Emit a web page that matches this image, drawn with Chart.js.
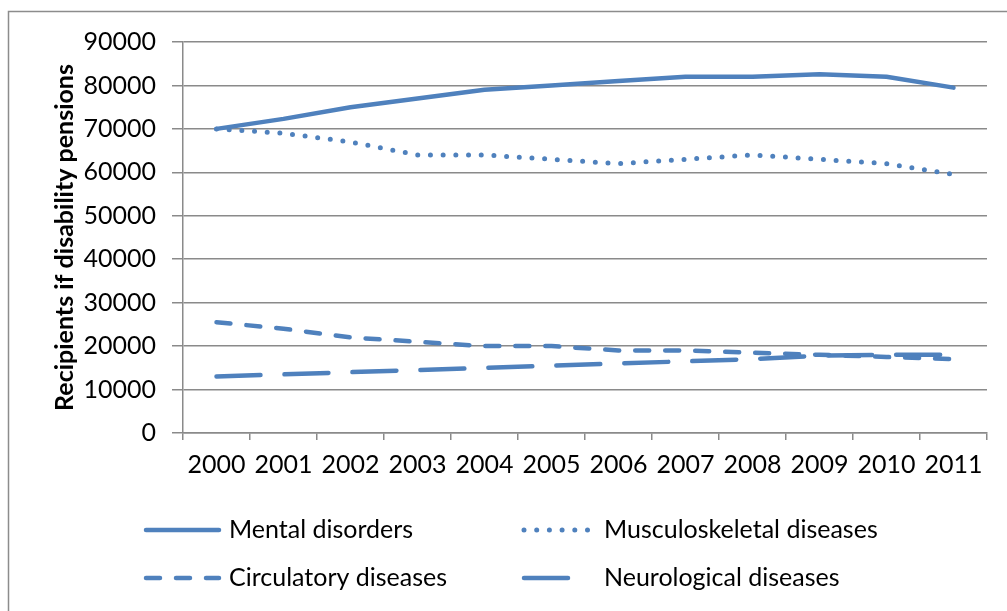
<!DOCTYPE html>
<html>
<head>
<meta charset="utf-8">
<script src="https://cdn.jsdelivr.net/npm/chart.js@4.4.1/dist/chart.umd.min.js"></script>
<style>
  html, body { margin: 0; padding: 0; background: #fff; }
  #wrap { position: relative; width: 1007px; height: 611px; }
</style>
</head>
<body>
<div id="wrap"><canvas id="c" width="1007" height="611"></canvas></div>
<script>
const years = ['2000','2001','2002','2003','2004','2005','2006','2007','2008','2009','2010','2011'];
const mentalDisorders = [70000, 72300, 75000, 77000, 79000, 80000, 81000, 82000, 82000, 82600, 82000, 79500];
const musculoskeletal = [70000, 69000, 67000, 64000, 64000, 63000, 62000, 63000, 64000, 63000, 62000, 59500];
const circulatory = [25500, 24000, 22000, 21000, 20000, 20000, 19000, 19000, 18500, 18000, 17500, 17000];
const neurological = [13000, 13500, 14000, 14500, 15000, 15500, 16000, 16500, 17000, 17800, 18000, 18000];
const seriesNames = ['Mental disorders', 'Musculoskeletal diseases', 'Circulatory diseases', 'Neurological diseases'];
const yTicks = [0, 10000, 20000, 30000, 40000, 50000, 60000, 70000, 80000, 90000];
const yTitle = 'Recipients if disability pensions';

const BLUE = '#4F81BD';
const GRID = '#8a8a8a';
const FONT = 'Lato, "Open Sans", sans-serif';

const dashes = [[], [0, 12.7], [14, 16], [44, 24]];
const widths = [4.5, 5, 4.5, 4.5];

const datasets = [mentalDisorders, musculoskeletal, circulatory, neurological].map((d, i) => ({
  label: seriesNames[i],
  data: d,
  borderColor: BLUE,
  backgroundColor: BLUE,
  borderWidth: widths[i],
  borderDash: dashes[i],
  borderCapStyle: 'round',
  borderJoinStyle: 'round',
  pointRadius: 0,
  tension: 0,
  fill: false
}));

const framePlugin = {
  id: 'frame',
  beforeDraw(chart) {
    const ctx = chart.ctx;
    ctx.save();
    ctx.fillStyle = '#fff';
    ctx.fillRect(0, 0, chart.width, chart.height);
    ctx.strokeStyle = '#8c8c8c';
    ctx.lineWidth = 1.5;
    ctx.beginPath();
    ctx.moveTo(8.5, chart.height + 2);
    ctx.lineTo(8.5, 11.5);
    ctx.lineTo(chart.width + 2, 11.5);
    ctx.stroke();
    ctx.restore();
  }
};

const legendPlugin = {
  id: 'customLegend',
  afterDraw(chart) {
    const ctx = chart.ctx;
    const pos = [
      {x: 146, y: 530, tx: 229},
      {x: 524, y: 530, tx: 604},
      {x: 146, y: 578, tx: 229},
      {x: 524, y: 578, tx: 604}
    ];
    const lens = [73, 68, 73, 50];
    ctx.save();
    chart.data.datasets.forEach((ds, i) => {
      const p = pos[i];
      ctx.strokeStyle = ds.borderColor;
      ctx.lineWidth = ds.borderWidth;
      ctx.lineCap = 'round';
      ctx.setLineDash(ds.borderDash || []);
      ctx.beginPath();
      ctx.moveTo(p.x, p.y);
      ctx.lineTo(p.x + lens[i], p.y);
      ctx.stroke();
      ctx.setLineDash([]);
      ctx.fillStyle = '#000';
      ctx.font = '25px ' + FONT;
      ctx.textBaseline = 'middle';
      ctx.textAlign = 'left';
      ctx.fillText(ds.label, p.tx, p.y);
    });
    ctx.restore();
  }
};

new Chart(document.getElementById('c'), {
  type: 'line',
  data: { labels: years, datasets },
  plugins: [framePlugin, legendPlugin],
  options: {
    responsive: false,
    animation: false,
    devicePixelRatio: 1,
    layout: { padding: { left: 0, right: 20, top: 42, bottom: 118 } },
    plugins: { legend: { display: false }, tooltip: { enabled: false } },
    scales: {
      x: {
        type: 'category',
        offset: true,
        afterFit(scale) { scale.height = 60; },
        grid: {
          offset: true,
          drawOnChartArea: false,
          drawTicks: true,
          tickLength: 7,
          color: GRID,
          lineWidth: 1.5
        },
        border: { display: true, color: GRID, width: 1.5 },
        ticks: {
          color: '#000',
          font: { family: FONT, size: 25 },
          padding: 10,
          maxRotation: 0,
          autoSkip: false
        }
      },
      y: {
        min: 0,
        max: 90000,
        afterFit(scale) { scale.width = 183; },
        afterBuildTicks(scale) { scale.ticks = yTicks.map(v => ({ value: v })); },
        grid: {
          drawTicks: true,
          tickLength: 11,
          color: GRID,
          lineWidth: 1.5
        },
        border: { display: true, color: GRID, width: 1.5 },
        ticks: {
          color: '#000',
          font: { family: FONT, size: 25 },
          padding: 16,
          callback: v => String(v)
        },
        title: {
          display: true,
          text: yTitle,
          color: '#000',
          font: { family: FONT, size: 25, weight: 'bold' },
          padding: { top: 50, bottom: 0 }
        }
      }
    }
  }
});
</script>
</body>
</html>
